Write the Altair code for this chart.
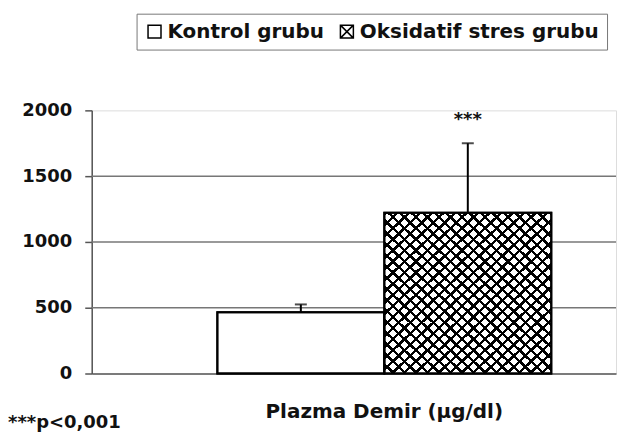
import altair as alt
import pandas as pd

# ---- data ----
groups = ["Kontrol grubu", "Oksidatif stres grubu"]
means = [465, 1222]
upper = [525, 1750]
star_labels = ["", "***"]
star_y = [0, 1890]
grid_values = [500, 1000, 1500]
y_ticks = [0, 500, 1000, 1500, 2000]
legend_hide_y = [-1000, -1000]

FONT = "DejaVu Sans"
BLACK = "#111111"

df = pd.DataFrame({"group": groups, "mean": means, "upper": upper,
                   "star": star_labels, "star_y": star_y, "ly": legend_hide_y})
grid_df = pd.DataFrame({"v": grid_values})


def stripes(x1, y1, x2, y2, n=29, frac=0.3):
    stops = []
    for k in range(n):
        a = k / n
        b = (k + frac) / n
        c = (k + 1) / n
        stops += [alt.GradientStop(color="black", offset=a),
                  alt.GradientStop(color="black", offset=b),
                  alt.GradientStop(color="rgba(0,0,0,0)", offset=b),
                  alt.GradientStop(color="rgba(0,0,0,0)", offset=c)]
    return alt.LinearGradient(gradient="linear", stops=stops, x1=x1, y1=y1, x2=x2, y2=y2)


xscale = alt.Scale(domain=groups, paddingInner=0, paddingOuter=0.57, align=0.66)
yscale = alt.Scale(domain=[0, 2000], nice=False, zero=True)

xaxis = alt.Axis(labels=False, ticks=False, title="Plazma Demir (µg/dl)",
                 domainColor="#555555", domainWidth=1.5,
                 titleFont=FONT, titleFontSize=20, titleFontWeight="bold",
                 titleColor=BLACK, titleX=293, titleY=28, titleAlign="center",
                 titleBaseline="top")
yaxis = alt.Axis(values=y_ticks, grid=False, title=None, format="d",
                 domainColor="#555555", domainWidth=1.5,
                 tickColor="#555555", tickWidth=1.5, tickSize=7,
                 labelFont=FONT, labelFontSize=18, labelFontWeight="bold",
                 labelColor=BLACK, labelPadding=13)


def X():
    return alt.X("group:N", scale=xscale, axis=xaxis)


base = alt.Chart(df)

grid = alt.Chart(grid_df).mark_rule(color="#777777", strokeWidth=1.5).encode(
    y=alt.Y("v:Q", scale=yscale, axis=yaxis)
)

bars = base.mark_bar(fill="white", stroke="black", strokeWidth=2).encode(
    x=X(), y=alt.Y("mean:Q", scale=yscale, axis=yaxis)
)

ox = base.transform_filter(alt.datum.group == groups[1])
hatch_a = ox.mark_bar(fill=stripes(0, 0, 1, 1), strokeWidth=0).encode(
    x=X(), y=alt.Y("mean:Q", scale=yscale, axis=yaxis)
)
hatch_b = ox.mark_bar(fill=stripes(1, 0, 0, 1), strokeWidth=0).encode(
    x=X(), y=alt.Y("mean:Q", scale=yscale, axis=yaxis)
)
outline = base.mark_bar(fill="transparent", stroke="black", strokeWidth=2).encode(
    x=X(), y=alt.Y("mean:Q", scale=yscale, axis=yaxis)
)

err = base.mark_rule(color="black", strokeWidth=2).encode(
    x=X(), y=alt.Y("mean:Q", scale=yscale, axis=yaxis), y2="upper:Q"
)
caps = base.mark_tick(color="black", thickness=2, size=12, orient="horizontal").encode(
    x=X(), y=alt.Y("upper:Q", scale=yscale, axis=yaxis)
)
stars = base.mark_text(font=FONT, fontSize=18, fontWeight="bold", color=BLACK,
                       baseline="alphabetic").encode(
    x=X(), y=alt.Y("star_y:Q", scale=yscale, axis=yaxis), text="star:N"
)

sq = "M-1,-1H1V1H-1Z"
sqx = "M-1,-1H1V1H-1Z M-1,-1L1,1 M1,-1L-1,1"
legend_pts = base.mark_point(filled=False, color="black", strokeWidth=1.5,
                             size=169, clip=True, opacity=1).encode(
    x=X(), y=alt.Y("ly:Q", scale=yscale, axis=yaxis),
    shape=alt.Shape("group:N", scale=alt.Scale(domain=groups, range=[sq, sqx]),
                    legend=alt.Legend(title=None, orient="none", direction="horizontal",
                                      legendX=45, legendY=-97,
                                      labelFont=FONT, labelFontSize=20, labelFontWeight="bold",
                                      labelColor=BLACK, labelLimit=400, labelOffset=3,
                                      symbolSize=169, symbolStrokeWidth=1.5,
                                      symbolStrokeColor="black",
                                      symbolOpacity=1, columnPadding=12,
                                      padding=8, strokeColor="#777777", fillColor="white"))
)

chart = alt.layer(grid, bars, hatch_a, hatch_b, outline, err, caps, stars, legend_pts).properties(
    width=526, height=264,
    title=alt.TitleParams("***p<0,001", orient="bottom", anchor="start", frame="group",
                          dx=-84, offset=-7, font=FONT, fontSize=18, fontWeight="bold",
                          color=BLACK),
    autosize=alt.AutoSizeParams(type="none"),
    padding={"left": 84, "top": 102, "right": 2, "bottom": 62},
).configure_view(stroke=None).configure(background="white")

chart.save("out.html", embed_options={"renderer": "svg", "actions": False})
